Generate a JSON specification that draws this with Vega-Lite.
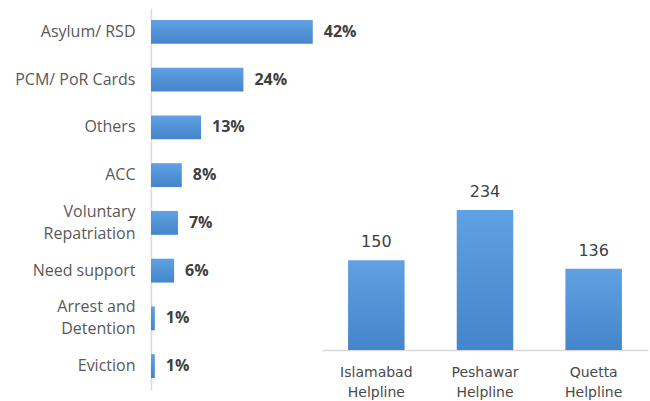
{
  "$schema": "https://vega.github.io/schema/vega-lite/v6.json",
  "background": "white",
  "padding": {"left": 14, "top": 8, "right": 2, "bottom": 2},
  "config": {"view": {"stroke": null}},
  "bounds": "flush",
  "spacing": 0,
  "hconcat": [
    {
      "width": 171,
      "height": 382,
      "data": {
        "values": [
          {"category": "Asylum/ RSD", "share": 0.42},
          {"category": "PCM/ PoR Cards", "share": 0.24},
          {"category": "Others", "share": 0.13},
          {"category": "ACC", "share": 0.08},
          {"category": "Voluntary|Repatriation", "share": 0.07},
          {"category": "Need support", "share": 0.06},
          {"category": "Arrest and|Detention", "share": 0.01},
          {"category": "Eviction", "share": 0.01}
        ]
      },
      "encoding": {
        "y": {
          "field": "category",
          "type": "nominal",
          "sort": null,
          "scale": {"paddingInner": 0.5, "paddingOuter": 0.25},
          "axis": {
            "title": null,
            "labelExpr": "split(datum.value, '|')",
            "labelFont": "Open Sans",
            "labelFontSize": 16,
            "labelColor": "#595959",
            "labelLineHeight": 22,
            "labelPadding": 16,
            "labelOffset": {"condition": {"test": "indexof(datum.value, '|') >= 0", "value": -11}, "value": 0},
            "ticks": false,
            "tickSize": 0,
            "domainColor": "#d9d9d9",
            "domainWidth": 1.5,
            "labelLimit": 200
          }
        },
        "x": {
          "field": "share",
          "type": "quantitative",
          "scale": {"domain": [0, 0.444], "nice": false},
          "axis": null
        }
      },
      "layer": [
        {
          "mark": {
            "type": "bar",
            "color": {
              "gradient": "linear",
              "x1": 0, "y1": 0, "x2": 0, "y2": 1,
              "stops": [
                {"offset": 0, "color": "#5fa1e2"},
                {"offset": 1, "color": "#4585cb"}
              ]
            }
          }
        },
        {
          "mark": {
            "type": "text",
            "align": "left",
            "baseline": "middle",
            "dx": 11,
            "font": "Open Sans",
            "fontSize": 16,
            "fontWeight": "bold",
            "color": "#404040"
          },
          "encoding": {"text": {"field": "share", "type": "quantitative", "format": ".0%"}}
        }
      ]
    },
    {
      "width": 326,
      "height": 342,
      "data": {
        "values": [
          {"helpline": "Islamabad|Helpline", "calls": 150},
          {"helpline": "Peshawar|Helpline", "calls": 234},
          {"helpline": "Quetta|Helpline", "calls": 136}
        ]
      },
      "encoding": {
        "x": {
          "field": "helpline",
          "type": "nominal",
          "sort": null,
          "scale": {"paddingInner": 0.48, "paddingOuter": 0.24},
          "axis": {
            "title": null,
            "labelAngle": 0,
            "labelExpr": "split(datum.value, '|')",
            "labelFont": "DejaVu Sans",
            "labelFontSize": 14,
            "labelColor": "#4a4a4a",
            "labelLineHeight": 20,
            "labelPadding": 15,
            "ticks": false,
            "tickSize": 0,
            "domainColor": "#d9d9d9",
            "domainWidth": 1.5
          }
        },
        "y": {
          "field": "calls",
          "type": "quantitative",
          "scale": {"domain": [0, 572], "nice": false},
          "axis": null
        }
      },
      "layer": [
        {
          "mark": {
            "type": "bar",
            "color": {
              "gradient": "linear",
              "x1": 0, "y1": 0, "x2": 0, "y2": 1,
              "stops": [
                {"offset": 0, "color": "#5fa1e2"},
                {"offset": 1, "color": "#4585cb"}
              ]
            }
          }
        },
        {
          "mark": {
            "type": "text",
            "align": "center",
            "baseline": "alphabetic",
            "dy": -13,
            "font": "DejaVu Sans",
            "fontSize": 16,
            "color": "#404040"
          },
          "encoding": {"text": {"field": "calls", "type": "quantitative"}}
        }
      ]
    }
  ]
}
